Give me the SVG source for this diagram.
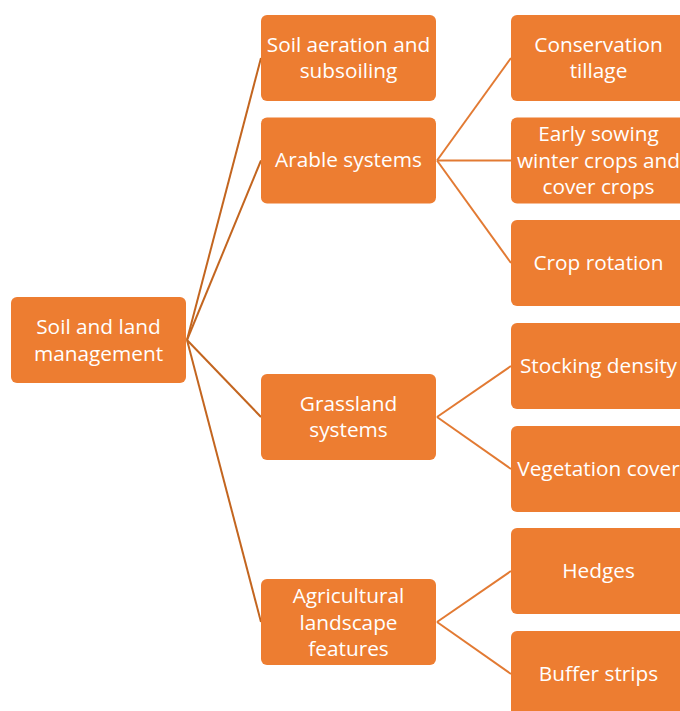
<svg xmlns="http://www.w3.org/2000/svg" width="680" height="711" viewBox="0 0 680 711">
<style>
.box{fill:#ED7D31;}
.t{font-family:"Open Sans","Noto Sans","Liberation Sans",sans-serif;font-size:20.8px;fill:#FFFFFF;text-anchor:middle;}
.c1{stroke:#C3651F;stroke-width:2;fill:none;}
.c2{stroke:#E27A33;stroke-width:2;fill:none;}
</style>
<rect width="680" height="711" fill="#FFFFFF"/>
<g id="connectors">
<line class="c1" x1="187" y1="340" x2="261" y2="58"/>
<line class="c1" x1="187" y1="340" x2="261" y2="160.5"/>
<line class="c1" x1="187" y1="340" x2="261" y2="417"/>
<line class="c1" x1="187" y1="340" x2="261" y2="622"/>
<line class="c2" x1="437" y1="160.5" x2="511" y2="58"/>
<line class="c2" x1="437" y1="160.5" x2="511" y2="160.5"/>
<line class="c2" x1="437" y1="160.5" x2="511" y2="263"/>
<line class="c2" x1="437" y1="417" x2="511" y2="366"/>
<line class="c2" x1="437" y1="417" x2="511" y2="469"/>
<line class="c2" x1="437" y1="622" x2="511" y2="571"/>
<line class="c2" x1="437" y1="622" x2="511" y2="674"/>
</g>
<g id="root">
<rect class="box" x="11" y="297" width="175" height="86" rx="6"/>
<text class="t" x="98.5" y="334">Soil and land</text>
<text class="t" x="98.5" y="360.5">management</text>
</g>
<g id="soil-aeration">
<rect class="box" x="261" y="15" width="175" height="86" rx="6"/>
<text class="t" x="348.5" y="51.5">Soil aeration and</text>
<text class="t" x="348.5" y="78">subsoiling</text>
</g>
<g id="arable">
<rect class="box" x="261" y="117.5" width="175" height="86" rx="6"/>
<text class="t" x="348.5" y="167">Arable systems</text>
</g>
<g id="grassland">
<rect class="box" x="261" y="374" width="175" height="86" rx="6"/>
<text class="t" x="348.5" y="410.5">Grassland</text>
<text class="t" x="348.5" y="437">systems</text>
</g>
<g id="agricultural">
<rect class="box" x="261" y="579" width="175" height="86" rx="6"/>
<text class="t" x="348.5" y="603">Agricultural</text>
<text class="t" x="348.5" y="629.5">landscape</text>
<text class="t" x="348.5" y="656">features</text>
</g>
<g id="conservation">
<rect class="box" x="511" y="15" width="175" height="86" rx="6"/>
<text class="t" x="598.5" y="51.5">Conservation</text>
<text class="t" x="598.5" y="78">tillage</text>
</g>
<g id="early-sowing">
<rect class="box" x="511" y="117.5" width="175" height="86" rx="6"/>
<text class="t" x="598.5" y="141">Early sowing</text>
<text class="t" x="598.5" y="167.5">winter crops and</text>
<text class="t" x="598.5" y="194">cover crops</text>
</g>
<g id="crop-rotation">
<rect class="box" x="511" y="220" width="175" height="86" rx="6"/>
<text class="t" x="598.5" y="269.5">Crop rotation</text>
</g>
<g id="stocking">
<rect class="box" x="511" y="323" width="175" height="86" rx="6"/>
<text class="t" x="598.5" y="372.5">Stocking density</text>
</g>
<g id="vegetation">
<rect class="box" x="511" y="426" width="175" height="86" rx="6"/>
<text class="t" x="598.5" y="475.5">Vegetation cover</text>
</g>
<g id="hedges">
<rect class="box" x="511" y="528" width="175" height="86" rx="6"/>
<text class="t" x="598.5" y="577.5">Hedges</text>
</g>
<g id="buffer">
<rect class="box" x="511" y="631" width="175" height="86" rx="6"/>
<text class="t" x="598.5" y="680.5">Buffer strips</text>
</g>
</svg>
